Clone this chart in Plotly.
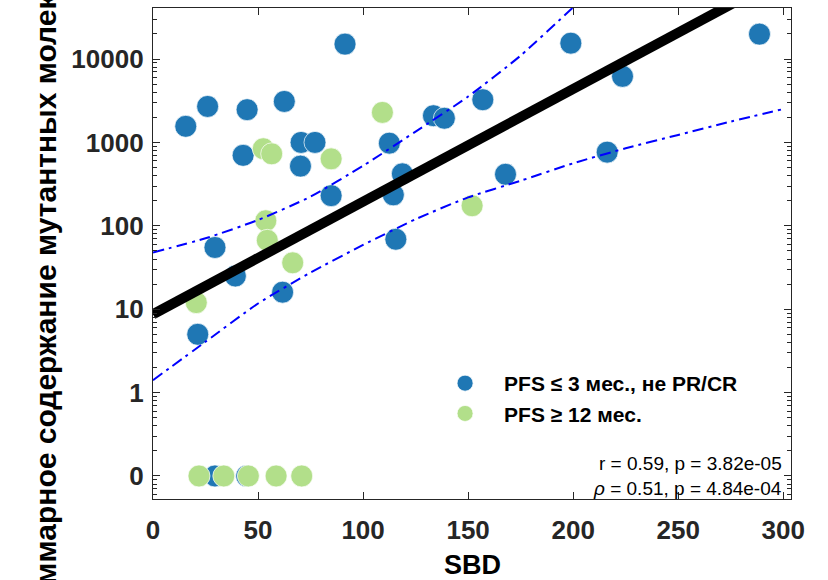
import plotly.graph_objects as go

# ---- data ----
blue_name = "PFS ≤ 3 мес., не PR/CR"
blue_x = [15.6, 26.0, 44.8, 62.5, 91.4, 42.9, 70.5, 77.1, 70.2, 84.8, 112.5, 118.7, 114.4, 115.6,
          29.5, 39.2, 61.7, 21.3, 133.5, 138.7, 157.0, 198.9, 223.5, 288.7, 216.2, 167.8, 29.5, 44.6]
blue_y = [1560, 2700, 2470, 3100, 15100, 700, 1000, 1000, 520, 230, 980, 420, 235, 69,
          55, 25, 16, 5, 2090, 1950, 3250, 15500, 6200, 19900, 765, 415, 0, 0]

green_name = "PFS ≥ 12 мес."
green_x = [109.2, 52.5, 56.5, 84.8, 53.7, 54.4, 66.5, 20.6, 151.9,
           21.9, 33.7, 45.4, 58.6, 70.8]
green_y = [2290, 840, 730, 635, 115, 67, 36, 12, 174,
           0, 0, 0, 0, 0]

fit_x = [0, 300]
fit_y = [8.7, 98000]

band_x = [0, 25, 50, 75, 100, 125, 150, 175, 200, 225, 250, 275, 300]
band_upper = [47.9, 70.8, 117.5, 224, 525, 1349, 3548, 11000, 41700, 158000, None, None, None]
band_lower = [1.41, 4.07, 11.7, 27.5, 58.9, 120, 219, 347, 562, 851, 1230, 1778, 2512]

stat_lines = ["r = 0.59, p = 3.82e-05", "<i>ρ</i> = 0.51, p = 4.84e-04"]

y_tick_vals = [0.1, 1, 10, 100, 1000, 10000]
y_tick_text = ["0", "1", "10", "100", "1000", "10000"]
ZERO_POS = 0.1  # where the value 0 is drawn on the log axis

y_title = "Суммарное содержание мутантных молекул"
x_title = "SBD"

# ---- styling ----
FONT = "Liberation Sans, Arial, Helvetica, sans-serif"
BLUE = "#1f77b4"
GREEN = "#b2df8a"
AX = "#262626"


def to_plot(vals):
    return [ZERO_POS if v == 0 else v for v in vals]


fig = go.Figure()
fig.add_trace(go.Scatter(
    x=blue_x, y=to_plot(blue_y), mode="markers", name=blue_name, legendgroup="a",
    marker=dict(size=22, color=BLUE, line=dict(width=1, color="rgba(255,255,255,0.7)")),
))
fig.add_trace(go.Scatter(
    x=green_x, y=to_plot(green_y), mode="markers", name=green_name, legendgroup="b",
    marker=dict(size=22, color=GREEN, line=dict(width=1, color="rgba(255,255,255,0.7)")),
))
fig.add_trace(go.Scatter(
    x=band_x, y=band_upper, mode="lines", showlegend=False, hoverinfo="skip",
    line=dict(color="#0000ff", width=2, dash="11px,5px,3px,5px", shape="spline", smoothing=0.6),
))
fig.add_trace(go.Scatter(
    x=band_x, y=band_lower, mode="lines", showlegend=False, hoverinfo="skip",
    line=dict(color="#0000ff", width=2, dash="11px,5px,3px,5px", shape="spline", smoothing=0.6),
))
fig.add_trace(go.Scatter(
    x=fit_x, y=fit_y, mode="lines", showlegend=False, hoverinfo="skip",
    line=dict(color="#000000", width=10),
))

minor_vals = []
for d in range(-2, 5):
    for k in range(2, 10):
        minor_vals.append(k * 10 ** d)

fig.update_layout(
    width=828, height=580,
    margin=dict(l=153, r=37, t=8, b=81, autoexpand=False),
    paper_bgcolor="white", plot_bgcolor="white",
    font=dict(family=FONT, color=AX),
    showlegend=True,
    legend=dict(
        x=0.428, y=0.277, xanchor="left", yanchor="top",
        bgcolor="rgba(0,0,0,0)", borderwidth=0,
        font=dict(family=FONT, size=21, color="#000000", weight="bold"),
        itemwidth=68, tracegroupgap=0,
    ),
    xaxis=dict(
        range=[0, 303.7], showgrid=False, zeroline=False, automargin=False,
        showline=True, linecolor=AX, linewidth=1.3, mirror="ticks",
        ticks="inside", ticklen=7, tickwidth=1.3, tickcolor=AX,
        tickmode="array", tickvals=[0, 50, 100, 150, 200, 250, 300],
        ticktext=["0", "50", "100", "150", "200", "250", "300"],
        tickfont=dict(family=FONT, size=26, color=AX, weight="bold"),
        ticklabelstandoff=8,
    ),
    yaxis=dict(
        type="log", range=[-1.276, 4.612], showgrid=False, zeroline=False, automargin=False,
        showline=True, linecolor=AX, linewidth=1.3, mirror="ticks",
        ticks="inside", ticklen=7, tickwidth=1.3, tickcolor=AX,
        tickmode="array", tickvals=y_tick_vals, ticktext=y_tick_text,
        tickfont=dict(family=FONT, size=26, color=AX, weight="bold"),
        ticklabelstandoff=3,
        minor=dict(ticks="inside", ticklen=4, tickwidth=1, tickcolor=AX,
                   tickmode="array", tickvals=minor_vals, showgrid=False),
    ),
)

fig.add_annotation(
    text=y_title, textangle=-90, xref="paper", yref="paper",
    x=-0.169, y=0.4226, xanchor="center", yanchor="middle", showarrow=False,
    font=dict(family=FONT, size=30, color="#000000", weight="bold"),
)
fig.add_annotation(
    text=x_title, xref="paper", yref="paper", x=0.5, y=-0.134,
    xanchor="center", yanchor="middle", showarrow=False,
    font=dict(family=FONT, size=27, color="#000000", weight="bold"),
)
fig.add_annotation(
    text=stat_lines[0], xref="paper", yref="paper", x=0.989, y=0.0733,
    xanchor="right", yanchor="middle", showarrow=False,
    font=dict(family=FONT, size=19, color="#000000"),
)
fig.add_annotation(
    text=stat_lines[1], xref="paper", yref="paper", x=0.989, y=0.0204,
    xanchor="right", yanchor="middle", showarrow=False,
    font=dict(family=FONT, size=19, color="#000000"),
)

fig.write_html("out.html")
